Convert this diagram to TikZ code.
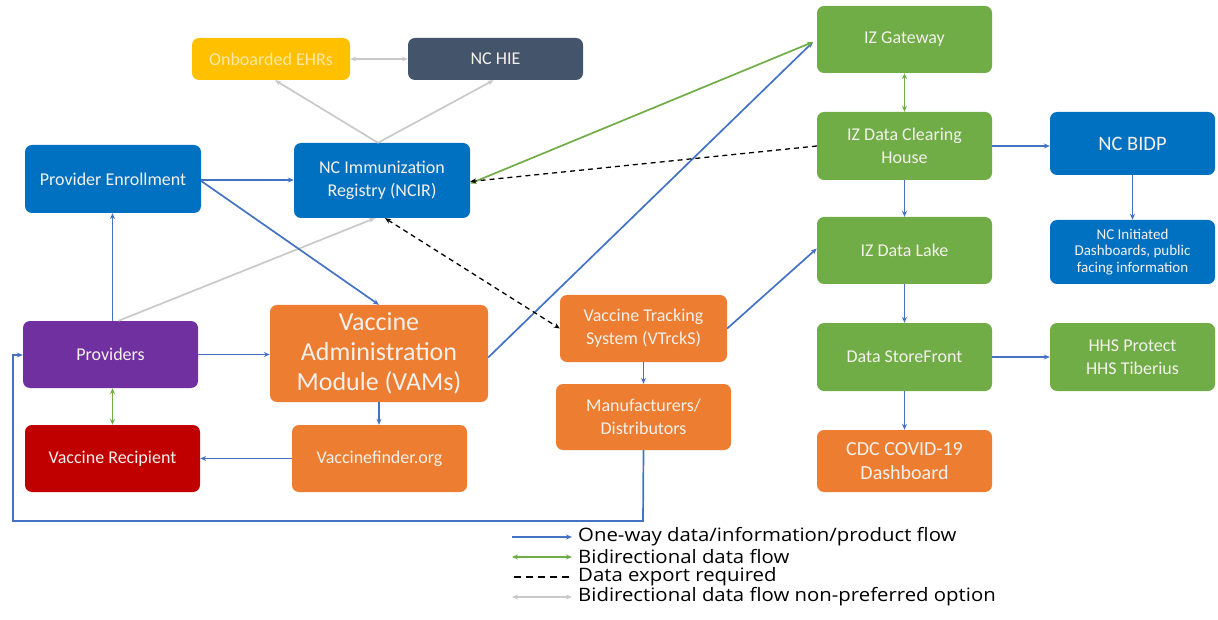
\documentclass[tikz,border=0pt]{standalone}
\usepackage{fontspec}
\setmainfont{Carlito}
\newfontfamily\legfont[FakeStretch=1.1]{Open Sans}
\usetikzlibrary{arrows.meta}
\definecolor{cblue}{HTML}{0070C0}
\definecolor{cyellow}{HTML}{FFC000}
\definecolor{cslate}{HTML}{44546A}
\definecolor{cpurple}{HTML}{7030A0}
\definecolor{corange}{HTML}{ED7D31}
\definecolor{cred}{HTML}{C00000}
\definecolor{cgreen}{HTML}{70AD47}
\definecolor{lblue}{HTML}{4472C4}
\definecolor{lgreen}{HTML}{70AD47}
\definecolor{lgray}{HTML}{C9C9C9}
\definecolor{offwhite}{HTML}{F4F1EC}
\tikzset{
  box/.style={rounded corners=7pt, text=offwhite, align=center, font=\fontsize{18}{23}\selectfont, inner sep=2pt},
  oneway/.style={draw=lblue, line width=1.7pt, -{Stealth[length=6pt,width=5pt]}},
  bidir/.style={draw=lgreen, line width=1.7pt, {Stealth[length=6pt,width=5pt]}-{Stealth[length=6pt,width=5pt]}},
  expo/.style={draw=black, line width=1.3pt, dash pattern=on 5pt off 4pt, -{Stealth[length=6pt,width=5pt]}},
  expo2/.style={draw=black, line width=1.3pt, dash pattern=on 5pt off 4pt, {Stealth[length=6pt,width=5pt]}-{Stealth[length=6pt,width=5pt]}},
  nonpref/.style={draw=lgray, line width=1.7pt, -{Stealth[length=6pt,width=5pt]}},
  nonpref2/.style={draw=lgray, line width=1.7pt, {Stealth[length=6pt,width=5pt]}-{Stealth[length=6pt,width=5pt]}},
  legtxt/.style={anchor=west, font=\legfont\fontsize{18.5}{20}\selectfont, inner sep=0pt}
}
\begin{document}
\begin{tikzpicture}[x=1pt,y=-1pt]
\useasboundingbox (0,0) rectangle (1218,620);
% nodes
\node[box, fill=cyellow, minimum width=158pt, minimum height=42pt, text=cyellow!35] (ehr) at (271,59) {Onboarded EHRs};
\node[box, fill=cslate, minimum width=175pt, minimum height=42pt] (hie) at (495.5,59) {NC HIE};
\node[box, fill=cblue, minimum width=176pt, minimum height=68pt] (penr) at (113,179) {Provider Enrollment};
\node[box, fill=cblue, minimum width=176pt, minimum height=75pt] (ncir) at (382,180.5) {NC Immunization\\Registry (NCIR)};
\node[box, fill=cpurple, minimum width=175pt, minimum height=67pt] (prov) at (110.5,354.5) {Providers};
\node[box, fill=corange, minimum width=218pt, minimum height=97pt, font=\fontsize{26}{30}\selectfont] (vams) at (379,353.5) {Vaccine\\Administration\\Module (VAMs)};
\node[box, fill=cred, minimum width=175pt, minimum height=67pt] (recip) at (112.5,458.5) {Vaccine Recipient};
\node[box, fill=corange, minimum width=175pt, minimum height=67pt] (vf) at (379.5,458.5) {Vaccinefinder.org};
\node[box, fill=corange, minimum width=167pt, minimum height=67pt] (vt) at (643.5,328.5) {Vaccine Tracking\\System (VTrckS)};
\node[box, fill=corange, minimum width=175pt, minimum height=66pt] (mfr) at (643.5,417) {Manufacturers/\\Distributors};
\node[box, fill=cgreen, minimum width=175pt, minimum height=67pt] (izg) at (904.5,39.5) {IZ Gateway};
\node[box, fill=cgreen, minimum width=175pt, minimum height=68pt] (izc) at (904.5,146) {IZ Data Clearing\\House};
\node[box, fill=cblue, minimum width=165pt, minimum height=63pt, font=\fontsize{20.5}{24}\selectfont] (bidp) at (1132.5,143.5) {NC BIDP};
\node[box, fill=cgreen, minimum width=175pt, minimum height=67pt] (lake) at (904.5,250.5) {IZ Data Lake};
\node[box, fill=cblue, minimum width=165pt, minimum height=64pt, font=\fontsize{15}{16.5}\selectfont] (dash) at (1132.5,252) {NC Initiated\\Dashboards, public\\facing information};
\node[box, fill=cgreen, minimum width=175pt, minimum height=68pt] (sf) at (904.5,357) {Data StoreFront};
\node[box, fill=cgreen, minimum width=165pt, minimum height=68pt] (hhs) at (1132.5,357) {HHS Protect\\HHS Tiberius};
\node[box, fill=corange, minimum width=175pt, minimum height=62pt, font=\fontsize{20}{24}\selectfont] (cdc) at (904.5,461) {CDC COVID-19\\Dashboard};
% coordinates
\coordinate (izgin) at (813,42);
\coordinate (c1) at (643,521);
\coordinate (c2) at (13,521);
\coordinate (c3) at (13,355);
% gray connectors
\draw[nonpref2] (ehr.east) -- (hie.west);
\draw[nonpref] ([xshift=-4pt]ncir.north) -- ([xshift=4pt]ehr.south);
\draw[nonpref] ([xshift=-4pt]ncir.north) -- ([xshift=-2pt]hie.south);
\draw[nonpref] ([xshift=8pt]prov.north) -- ([xshift=-7pt]ncir.south);
% blue connectors
\draw[oneway] (penr.east |- 0,180) -- (ncir.west |- 0,180);
\draw[oneway] ([yshift=-2pt]penr.east) -- (vams.north);
\draw[oneway] ([xshift=2pt]prov.north) -- ([xshift=2pt]prov.north |- penr.south);
\draw[oneway] (prov.east) -- (vams.west |- prov.east);
\draw[oneway] (vams.south) -- (vf.north -| vams.south);
\draw[oneway] (vf.west) -- (recip.east);
\draw[oneway] (vt.south) -- (mfr.north);
\draw[oneway] (mfr.south) -- (c1) -- (c2) -- (c3) -- (prov.west |- c3);
\draw[oneway] ([yshift=-4pt]vams.east) -- (izgin);
\draw[oneway] (vt.east) -- ([yshift=2pt]lake.west);
\draw[oneway] (izc.east) -- (bidp.west |- izc.east);
\draw[oneway] (izc.south) -- (lake.north);
\draw[oneway] (bidp.south) -- (dash.north);
\draw[oneway] (lake.south) -- (sf.north);
\draw[oneway] (sf.east) -- (hhs.west);
\draw[oneway] (sf.south) -- (cdc.north);
% green connectors
\draw[bidir] ([yshift=-3pt]ncir.east) -- (izgin);
\draw[bidir] (izg.south) -- (izc.north);
\draw[bidir] ([xshift=2pt]prov.south) -- ([xshift=2pt]prov.south |- recip.north);
% dashed
\draw[expo] (izc.west) -- ([yshift=-1pt]ncir.east);
\draw[expo2] ([xshift=3pt]ncir.south) -- (vt.west);
% legend
\coordinate (l1a) at (512,537); \coordinate (l1b) at (572,537);
\coordinate (l2a) at (512,557); \coordinate (l2b) at (572,557);
\coordinate (l3a) at (514,577); \coordinate (l3b) at (570,577);
\coordinate (l4a) at (512,597); \coordinate (l4b) at (572,597);
\draw[oneway] (l1a) -- (l1b);
\draw[bidir] (l2a) -- (l2b);
\draw[draw=black, line width=1.3pt, dash pattern=on 7pt off 5pt] (l3a) -- (l3b);
\draw[nonpref2] (l4a) -- (l4b);
\node[legtxt] (t1) at (578,537) {One-way data/information/product flow};
\node[legtxt] (t2) at (578,557) {Bidirectional data flow};
\node[legtxt] (t3) at (578,577) {Data export required};
\node[legtxt] (t4) at (578,597) {Bidirectional data flow non-preferred option};
\end{tikzpicture}
\end{document}
